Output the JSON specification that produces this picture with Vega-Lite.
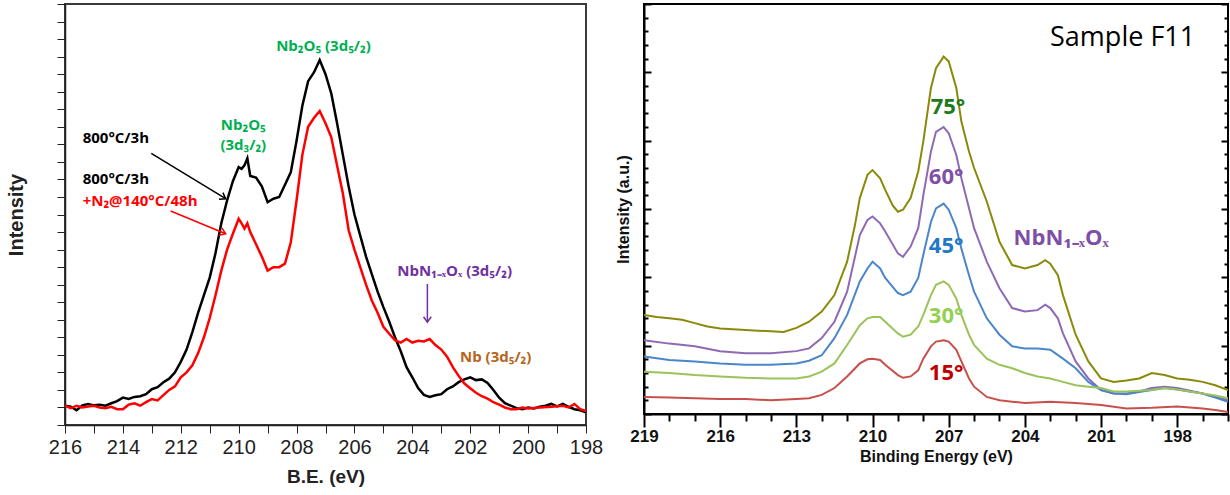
{
  "$schema": "https://vega.github.io/schema/vega-lite/v6.json",
  "padding": {"left": 5, "top": 2, "right": 2, "bottom": 0},
  "autosize": {"type": "pad"},
  "background": "white",
  "config": {"view": {"stroke": null}, "font": "Liberation Sans", "axis": {"labelFont": "Liberation Sans", "titleFont": "Liberation Sans", "grid": false}},
  "spacing": 58,
  "bounds": "flush",
  "resolve": {"scale": {"color": "independent", "x": "independent", "y": "independent"}},
  "hconcat": [
    {
      "width": 521,
      "height": 421,
      "view": {"stroke": "#3a3a3a", "strokeWidth": 2},
      "encoding": {
        "x": {"field": "be", "type": "quantitative",
          "scale": {"domain": [198, 216], "reverse": true, "nice": false, "zero": false},
          "axis": {"title": "B.E. (eV)", "values": [198,199,200,201,202,203,204,205,206,207,208,209,210,211,212,213,214,215,216],
            "labelExpr": "datum.value % 2 === 0 ? datum.label : ''", "labelFlush": false, "labelOverlap": false,
            "tickSize": 8, "tickColor": "#222", "domainColor": "#222", "domainWidth": 1.5,
            "labelFontSize": 20, "labelColor": "#222", "labelPadding": 4,
            "titleFontSize": 19, "titleFontWeight": "bold", "titleColor": "#222", "titlePadding": 10}},
        "y": {"field": "i", "type": "quantitative",
          "scale": {"domain": [-0.5, 11.5], "nice": false, "zero": false},
          "axis": {"title": "Intensity", "labels": false,
            "values": [-0.5,0,0.5,1,1.5,2,2.5,3,3.5,4,4.5,5,5.5,6,6.5,7,7.5,8,8.5,9,9.5,10,10.5,11,11.5],
            "tickSize": 8, "tickColor": "#222", "domainColor": "#222", "domainWidth": 1.5,
            "titleFontSize": 20, "titleFontWeight": "bold", "titleColor": "#222", "titlePadding": 30}}
      },
      "layer": [
        {
          "data": {"values": [
            {"be":216.0,"i":0.05,"s":"A"},{"be":215.8,"i":0.02,"s":"A"},{"be":215.6,"i":-0.08,"s":"A"},{"be":215.4,"i":0.06,"s":"A"},{"be":215.2,"i":0.1,"s":"A"},{"be":215.0,"i":0.06,"s":"A"},{"be":214.8,"i":0.08,"s":"A"},{"be":214.6,"i":0.05,"s":"A"},{"be":214.4,"i":0.12,"s":"A"},{"be":214.2,"i":0.18,"s":"A"},{"be":214.0,"i":0.28,"s":"A"},{"be":213.8,"i":0.24,"s":"A"},{"be":213.6,"i":0.3,"s":"A"},{"be":213.4,"i":0.32,"s":"A"},{"be":213.2,"i":0.38,"s":"A"},{"be":213.0,"i":0.52,"s":"A"},{"be":212.8,"i":0.58,"s":"A"},{"be":212.6,"i":0.72,"s":"A"},{"be":212.4,"i":0.82,"s":"A"},{"be":212.2,"i":1.0,"s":"A"},{"be":212.0,"i":1.3,"s":"A"},{"be":211.8,"i":1.65,"s":"A"},{"be":211.6,"i":2.15,"s":"A"},{"be":211.4,"i":2.7,"s":"A"},{"be":211.2,"i":3.2,"s":"A"},{"be":211.0,"i":3.7,"s":"A"},{"be":210.8,"i":4.4,"s":"A"},{"be":210.6,"i":5.25,"s":"A"},{"be":210.4,"i":5.9,"s":"A"},{"be":210.2,"i":6.45,"s":"A"},{"be":210.0,"i":6.85,"s":"A"},{"be":209.9,"i":6.8,"s":"A"},{"be":209.8,"i":6.9,"s":"A"},{"be":209.7,"i":7.1,"s":"A"},{"be":209.6,"i":6.6,"s":"A"},{"be":209.4,"i":6.55,"s":"A"},{"be":209.2,"i":6.3,"s":"A"},{"be":209.0,"i":5.85,"s":"A"},{"be":208.8,"i":5.95,"s":"A"},{"be":208.6,"i":6.0,"s":"A"},{"be":208.4,"i":6.35,"s":"A"},{"be":208.2,"i":6.7,"s":"A"},{"be":208.0,"i":7.6,"s":"A"},{"be":207.8,"i":8.6,"s":"A"},{"be":207.6,"i":9.3,"s":"A"},{"be":207.4,"i":9.55,"s":"A"},{"be":207.2,"i":9.9,"s":"A"},{"be":207.0,"i":9.5,"s":"A"},{"be":206.8,"i":8.95,"s":"A"},{"be":206.6,"i":8.1,"s":"A"},{"be":206.4,"i":7.2,"s":"A"},{"be":206.2,"i":6.3,"s":"A"},{"be":206.0,"i":5.5,"s":"A"},{"be":205.8,"i":4.9,"s":"A"},{"be":205.6,"i":4.3,"s":"A"},{"be":205.4,"i":3.8,"s":"A"},{"be":205.2,"i":3.3,"s":"A"},{"be":205.0,"i":2.86,"s":"A"},{"be":204.8,"i":2.45,"s":"A"},{"be":204.6,"i":2.0,"s":"A"},{"be":204.4,"i":1.6,"s":"A"},{"be":204.2,"i":1.15,"s":"A"},{"be":204.0,"i":0.86,"s":"A"},{"be":203.8,"i":0.55,"s":"A"},{"be":203.6,"i":0.36,"s":"A"},{"be":203.4,"i":0.3,"s":"A"},{"be":203.2,"i":0.35,"s":"A"},{"be":203.0,"i":0.38,"s":"A"},{"be":202.8,"i":0.52,"s":"A"},{"be":202.6,"i":0.6,"s":"A"},{"be":202.4,"i":0.72,"s":"A"},{"be":202.2,"i":0.8,"s":"A"},{"be":202.0,"i":0.86,"s":"A"},{"be":201.8,"i":0.78,"s":"A"},{"be":201.6,"i":0.8,"s":"A"},{"be":201.4,"i":0.7,"s":"A"},{"be":201.2,"i":0.5,"s":"A"},{"be":201.0,"i":0.28,"s":"A"},{"be":200.8,"i":0.12,"s":"A"},{"be":200.6,"i":0.05,"s":"A"},{"be":200.4,"i":-0.02,"s":"A"},{"be":200.2,"i":-0.05,"s":"A"},{"be":200.0,"i":0.0,"s":"A"},{"be":199.8,"i":-0.03,"s":"A"},{"be":199.6,"i":0.02,"s":"A"},{"be":199.4,"i":0.05,"s":"A"},{"be":199.2,"i":0.1,"s":"A"},{"be":199.0,"i":0.03,"s":"A"},{"be":198.8,"i":0.1,"s":"A"},{"be":198.6,"i":0.02,"s":"A"},{"be":198.4,"i":-0.05,"s":"A"},{"be":198.2,"i":-0.08,"s":"A"},{"be":198.0,"i":-0.14,"s":"A"},
            {"be":216.0,"i":0.05,"s":"B"},{"be":215.8,"i":-0.02,"s":"B"},{"be":215.6,"i":0.05,"s":"B"},{"be":215.4,"i":0.0,"s":"B"},{"be":215.2,"i":0.03,"s":"B"},{"be":215.0,"i":0.05,"s":"B"},{"be":214.8,"i":0.0,"s":"B"},{"be":214.6,"i":-0.02,"s":"B"},{"be":214.4,"i":0.02,"s":"B"},{"be":214.2,"i":-0.05,"s":"B"},{"be":214.0,"i":-0.05,"s":"B"},{"be":213.8,"i":0.08,"s":"B"},{"be":213.6,"i":0.12,"s":"B"},{"be":213.4,"i":0.05,"s":"B"},{"be":213.2,"i":0.15,"s":"B"},{"be":213.0,"i":0.24,"s":"B"},{"be":212.8,"i":0.2,"s":"B"},{"be":212.6,"i":0.35,"s":"B"},{"be":212.4,"i":0.5,"s":"B"},{"be":212.2,"i":0.6,"s":"B"},{"be":212.0,"i":0.86,"s":"B"},{"be":211.8,"i":1.0,"s":"B"},{"be":211.6,"i":1.2,"s":"B"},{"be":211.4,"i":1.55,"s":"B"},{"be":211.2,"i":2.0,"s":"B"},{"be":211.0,"i":2.55,"s":"B"},{"be":210.8,"i":3.2,"s":"B"},{"be":210.6,"i":3.9,"s":"B"},{"be":210.4,"i":4.5,"s":"B"},{"be":210.2,"i":4.95,"s":"B"},{"be":210.0,"i":5.38,"s":"B"},{"be":209.9,"i":5.25,"s":"B"},{"be":209.8,"i":5.1,"s":"B"},{"be":209.7,"i":5.25,"s":"B"},{"be":209.6,"i":5.0,"s":"B"},{"be":209.4,"i":4.65,"s":"B"},{"be":209.2,"i":4.3,"s":"B"},{"be":209.0,"i":3.9,"s":"B"},{"be":208.8,"i":4.0,"s":"B"},{"be":208.6,"i":4.0,"s":"B"},{"be":208.4,"i":4.1,"s":"B"},{"be":208.2,"i":4.7,"s":"B"},{"be":208.0,"i":5.9,"s":"B"},{"be":207.8,"i":7.2,"s":"B"},{"be":207.6,"i":8.0,"s":"B"},{"be":207.4,"i":8.25,"s":"B"},{"be":207.2,"i":8.45,"s":"B"},{"be":207.0,"i":8.1,"s":"B"},{"be":206.8,"i":7.7,"s":"B"},{"be":206.6,"i":6.9,"s":"B"},{"be":206.4,"i":6.1,"s":"B"},{"be":206.2,"i":5.05,"s":"B"},{"be":206.0,"i":4.5,"s":"B"},{"be":205.8,"i":4.0,"s":"B"},{"be":205.6,"i":3.5,"s":"B"},{"be":205.4,"i":3.05,"s":"B"},{"be":205.2,"i":2.7,"s":"B"},{"be":205.0,"i":2.3,"s":"B"},{"be":204.8,"i":2.1,"s":"B"},{"be":204.6,"i":1.92,"s":"B"},{"be":204.4,"i":1.85,"s":"B"},{"be":204.2,"i":1.95,"s":"B"},{"be":204.0,"i":1.85,"s":"B"},{"be":203.8,"i":1.9,"s":"B"},{"be":203.6,"i":1.88,"s":"B"},{"be":203.4,"i":1.95,"s":"B"},{"be":203.2,"i":1.78,"s":"B"},{"be":203.0,"i":1.65,"s":"B"},{"be":202.8,"i":1.45,"s":"B"},{"be":202.6,"i":1.15,"s":"B"},{"be":202.4,"i":0.9,"s":"B"},{"be":202.2,"i":0.68,"s":"B"},{"be":202.0,"i":0.55,"s":"B"},{"be":201.8,"i":0.42,"s":"B"},{"be":201.6,"i":0.32,"s":"B"},{"be":201.4,"i":0.25,"s":"B"},{"be":201.2,"i":0.15,"s":"B"},{"be":201.0,"i":0.08,"s":"B"},{"be":200.8,"i":0.0,"s":"B"},{"be":200.6,"i":-0.05,"s":"B"},{"be":200.4,"i":-0.05,"s":"B"},{"be":200.2,"i":0.0,"s":"B"},{"be":200.0,"i":-0.03,"s":"B"},{"be":199.6,"i":0.0,"s":"B"},{"be":199.2,"i":0.02,"s":"B"},{"be":198.8,"i":0.05,"s":"B"},{"be":198.6,"i":0.0,"s":"B"},{"be":198.4,"i":0.1,"s":"B"},{"be":198.2,"i":-0.05,"s":"B"},{"be":198.0,"i":-0.1,"s":"B"}
          ]},
          "mark": {"type": "line", "strokeWidth": 2.5},
          "encoding": {
            "color": {"field": "s", "type": "nominal", "scale": {"domain": ["A", "B"], "range": ["#000000", "#ff0000"]}, "legend": null}
          }
        },
        {
          "data": {"values": [{"be": 207.07, "i": 10.29, "t": "Nb₂O₅ (3d₅/₂)"}, {"be": 209.84, "i": 8.05, "t": "Nb₂O₅"}, {"be": 209.84, "i": 7.48, "t": "(3d₃/₂)"}]},
          "mark": {"type": "text", "font": "Open Sans", "fontWeight": "bold", "fontSize": 15, "color": "#00b050", "baseline": "middle", "align": "center"},
          "encoding": {"text": {"field": "t"}}
        },
        {
          "data": {"values": [{"be": 215.39, "i": 7.67, "t": "800°C/3h"}, {"be": 215.39, "i": 6.5, "t": "800°C/3h"}]},
          "mark": {"type": "text", "font": "Open Sans", "fontWeight": "bold", "fontSize": 15, "color": "#000000", "baseline": "middle", "align": "left"},
          "encoding": {"text": {"field": "t"}}
        },
        {
          "data": {"values": [{"be": 215.39, "i": 5.88, "t": "+N₂@140°C/48h"}]},
          "mark": {"type": "text", "font": "Open Sans", "fontWeight": "bold", "fontSize": 15, "color": "#ff0000", "baseline": "middle", "align": "left"},
          "encoding": {"text": {"field": "t"}}
        },
        {
          "data": {"values": [{"be": 202.54, "i": 3.9, "t": "NbN₁₋ₓOₓ (3d₅/₂)"}]},
          "mark": {"type": "text", "font": "Open Sans", "fontWeight": "bold", "fontSize": 15, "color": "#7030a0", "baseline": "middle", "align": "center"},
          "encoding": {"text": {"field": "t"}}
        },
        {
          "data": {"values": [{"be": 201.12, "i": 1.45, "t": "Nb (3d₅/₂)"}]},
          "mark": {"type": "text", "font": "Open Sans", "fontWeight": "bold", "fontSize": 15, "color": "#b5651d", "baseline": "middle", "align": "center"},
          "encoding": {"text": {"field": "t"}}
        },
        {
          "data": {"values": [{"be": 210.45, "i": 5.95, "be2": 213.02, "i2": 7.24}]},
          "layer": [
            {"mark": {"type": "rule", "color": "#000000", "strokeWidth": 1.5},
             "encoding": {"x2": {"field": "be2"}, "y2": {"field": "i2"}}},
            {"mark": {"type": "point", "shape": "M-0.7,1L0,0L0.7,1", "filled": false, "color": "#000000", "strokeWidth": 1.5, "size": 120, "angle": 121, "opacity": 1},
             "encoding": {}}
          ]
        },
        {
          "data": {"values": [{"be": 210.45, "i": 4.95, "be2": 212.35, "i2": 5.6}]},
          "layer": [
            {"mark": {"type": "rule", "color": "#ff0000", "strokeWidth": 1.5},
             "encoding": {"x2": {"field": "be2"}, "y2": {"field": "i2"}}},
            {"mark": {"type": "point", "shape": "M-0.7,1L0,0L0.7,1", "filled": false, "color": "#ff0000", "strokeWidth": 1.5, "size": 120, "angle": 112, "opacity": 1},
             "encoding": {}}
          ]
        },
        {
          "data": {"values": [{"be": 203.48, "i": 2.43, "be2": 203.48, "i2": 3.52}]},
          "layer": [
            {"mark": {"type": "rule", "color": "#7030a0", "strokeWidth": 1.5},
             "encoding": {"x2": {"field": "be2"}, "y2": {"field": "i2"}}},
            {"mark": {"type": "point", "shape": "M-0.7,1L0,0L0.7,1", "filled": false, "color": "#7030a0", "strokeWidth": 1.5, "size": 120, "angle": 180, "opacity": 1},
             "encoding": {}}
          ]
        }
      ]
    },
    {
      "width": 584,
      "height": 410,
      "view": {"stroke": "#000000", "strokeWidth": 2},
      "resolve": {"scale": {"y": "independent"}, "axis": {"y": "independent"}},
      "encoding": {
        "x": {"field": "be", "type": "quantitative",
          "scale": {"domain": [196, 219], "reverse": true, "nice": false, "zero": false},
          "axis": {"title": "Binding Energy (eV)",
            "values": [196,197,198,199,200,201,202,203,204,205,206,207,208,209,210,211,212,213,214,215,216,217,218,219],
            "labelExpr": "(219 - datum.value) % 3 === 0 ? datum.label : ''", "labelFlush": false, "labelOverlap": false,
            "tickSize": {"condition": {"test": "(219 - datum.value) % 3 === 0", "value": 13}, "value": 7},
            "tickColor": "#000", "tickWidth": 2, "domainColor": "#000", "domainWidth": 2,
            "labelFontSize": 17, "labelFontWeight": "bold", "labelColor": "#111", "labelPadding": 1,
            "titleFontSize": 16, "titleFontWeight": "bold", "titleColor": "#111", "titlePadding": 4}}
      },
      "layer": [
        {
          "data": {"values": [
            {"be":219,"i":1.45,"a":"75"},{"be":218.5,"i":1.42,"a":"75"},{"be":218,"i":1.40,"a":"75"},{"be":217.5,"i":1.38,"a":"75"},{"be":217,"i":1.33,"a":"75"},{"be":216.5,"i":1.28,"a":"75"},{"be":216,"i":1.25,"a":"75"},{"be":215.5,"i":1.24,"a":"75"},{"be":215,"i":1.23,"a":"75"},{"be":214.5,"i":1.22,"a":"75"},{"be":214,"i":1.21,"a":"75"},{"be":213.5,"i":1.2,"a":"75"},{"be":213,"i":1.26,"a":"75"},{"be":212.5,"i":1.35,"a":"75"},{"be":212,"i":1.5,"a":"75"},{"be":211.5,"i":1.74,"a":"75"},{"be":211,"i":2.23,"a":"75"},{"be":210.7,"i":2.75,"a":"75"},{"be":210.5,"i":3.16,"a":"75"},{"be":210.2,"i":3.5,"a":"75"},{"be":210,"i":3.57,"a":"75"},{"be":209.7,"i":3.45,"a":"75"},{"be":209.5,"i":3.28,"a":"75"},{"be":209.2,"i":3.05,"a":"75"},{"be":209,"i":2.96,"a":"75"},{"be":208.8,"i":2.99,"a":"75"},{"be":208.5,"i":3.16,"a":"75"},{"be":208.2,"i":3.55,"a":"75"},{"be":208,"i":3.99,"a":"75"},{"be":207.7,"i":4.77,"a":"75"},{"be":207.5,"i":5.06,"a":"75"},{"be":207.2,"i":5.23,"a":"75"},{"be":207,"i":5.16,"a":"75"},{"be":206.7,"i":4.77,"a":"75"},{"be":206.5,"i":4.28,"a":"75"},{"be":206.2,"i":3.84,"a":"75"},{"be":206,"i":3.6,"a":"75"},{"be":205.5,"i":3.11,"a":"75"},{"be":205,"i":2.52,"a":"75"},{"be":204.5,"i":2.18,"a":"75"},{"be":204,"i":2.13,"a":"75"},{"be":203.5,"i":2.18,"a":"75"},{"be":203.2,"i":2.25,"a":"75"},{"be":203,"i":2.2,"a":"75"},{"be":202.7,"i":2.03,"a":"75"},{"be":202.5,"i":1.74,"a":"75"},{"be":202,"i":1.16,"a":"75"},{"be":201.5,"i":0.77,"a":"75"},{"be":201,"i":0.52,"a":"75"},{"be":200.5,"i":0.47,"a":"75"},{"be":200,"i":0.49,"a":"75"},{"be":199.5,"i":0.52,"a":"75"},{"be":199,"i":0.6,"a":"75"},{"be":198.5,"i":0.57,"a":"75"},{"be":198,"i":0.52,"a":"75"},{"be":197.5,"i":0.5,"a":"75"},{"be":197,"i":0.47,"a":"75"},{"be":196.5,"i":0.42,"a":"75"},{"be":196,"i":0.35,"a":"75"},
            {"be":219,"i":1.08,"a":"60"},{"be":218,"i":1.03,"a":"60"},{"be":217,"i":0.99,"a":"60"},{"be":216,"i":0.92,"a":"60"},{"be":215,"i":0.89,"a":"60"},{"be":214,"i":0.89,"a":"60"},{"be":213,"i":0.92,"a":"60"},{"be":212.5,"i":0.96,"a":"60"},{"be":212,"i":1.11,"a":"60"},{"be":211.5,"i":1.35,"a":"60"},{"be":211,"i":1.79,"a":"60"},{"be":210.5,"i":2.62,"a":"60"},{"be":210.2,"i":2.84,"a":"60"},{"be":210,"i":2.89,"a":"60"},{"be":209.7,"i":2.79,"a":"60"},{"be":209.5,"i":2.67,"a":"60"},{"be":209,"i":2.35,"a":"60"},{"be":208.8,"i":2.3,"a":"60"},{"be":208.5,"i":2.45,"a":"60"},{"be":208.2,"i":2.72,"a":"60"},{"be":208,"i":3.2,"a":"60"},{"be":207.7,"i":3.84,"a":"60"},{"be":207.5,"i":4.13,"a":"60"},{"be":207.2,"i":4.2,"a":"60"},{"be":207,"i":4.11,"a":"60"},{"be":206.7,"i":3.79,"a":"60"},{"be":206.5,"i":3.45,"a":"60"},{"be":206.2,"i":3.01,"a":"60"},{"be":206,"i":2.72,"a":"60"},{"be":205.5,"i":2.23,"a":"60"},{"be":205,"i":1.84,"a":"60"},{"be":204.5,"i":1.55,"a":"60"},{"be":204,"i":1.5,"a":"60"},{"be":203.5,"i":1.52,"a":"60"},{"be":203.2,"i":1.6,"a":"60"},{"be":203,"i":1.55,"a":"60"},{"be":202.7,"i":1.4,"a":"60"},{"be":202.5,"i":1.18,"a":"60"},{"be":202,"i":0.77,"a":"60"},{"be":201.5,"i":0.52,"a":"60"},{"be":201,"i":0.35,"a":"60"},{"be":200.5,"i":0.3,"a":"60"},{"be":200,"i":0.3,"a":"60"},{"be":199.5,"i":0.33,"a":"60"},{"be":199,"i":0.38,"a":"60"},{"be":198.5,"i":0.4,"a":"60"},{"be":198,"i":0.38,"a":"60"},{"be":197,"i":0.3,"a":"60"},{"be":196.5,"i":0.25,"a":"60"},{"be":196,"i":0.2,"a":"60"},
            {"be":219,"i":0.84,"a":"45"},{"be":218,"i":0.79,"a":"45"},{"be":217,"i":0.77,"a":"45"},{"be":216,"i":0.74,"a":"45"},{"be":215,"i":0.72,"a":"45"},{"be":214,"i":0.72,"a":"45"},{"be":213,"i":0.74,"a":"45"},{"be":212.5,"i":0.78,"a":"45"},{"be":212,"i":0.86,"a":"45"},{"be":211.5,"i":1.11,"a":"45"},{"be":211,"i":1.45,"a":"45"},{"be":210.5,"i":1.94,"a":"45"},{"be":210.2,"i":2.13,"a":"45"},{"be":210,"i":2.23,"a":"45"},{"be":209.7,"i":2.13,"a":"45"},{"be":209.5,"i":1.99,"a":"45"},{"be":209,"i":1.77,"a":"45"},{"be":208.8,"i":1.74,"a":"45"},{"be":208.5,"i":1.79,"a":"45"},{"be":208.2,"i":1.99,"a":"45"},{"be":208,"i":2.33,"a":"45"},{"be":207.7,"i":2.81,"a":"45"},{"be":207.5,"i":3.01,"a":"45"},{"be":207.2,"i":3.08,"a":"45"},{"be":207,"i":2.99,"a":"45"},{"be":206.7,"i":2.72,"a":"45"},{"be":206.5,"i":2.42,"a":"45"},{"be":206.2,"i":2.03,"a":"45"},{"be":206,"i":1.79,"a":"45"},{"be":205.5,"i":1.4,"a":"45"},{"be":205,"i":1.16,"a":"45"},{"be":204.5,"i":0.99,"a":"45"},{"be":204,"i":0.96,"a":"45"},{"be":203.5,"i":0.96,"a":"45"},{"be":203,"i":0.94,"a":"45"},{"be":202.5,"i":0.81,"a":"45"},{"be":202,"i":0.67,"a":"45"},{"be":201.5,"i":0.47,"a":"45"},{"be":201,"i":0.35,"a":"45"},{"be":200.5,"i":0.3,"a":"45"},{"be":200,"i":0.29,"a":"45"},{"be":199.5,"i":0.32,"a":"45"},{"be":199,"i":0.35,"a":"45"},{"be":198.5,"i":0.38,"a":"45"},{"be":198,"i":0.36,"a":"45"},{"be":197,"i":0.3,"a":"45"},{"be":196.5,"i":0.24,"a":"45"},{"be":196,"i":0.18,"a":"45"},
            {"be":219,"i":0.62,"a":"30"},{"be":218,"i":0.6,"a":"30"},{"be":217,"i":0.57,"a":"30"},{"be":216,"i":0.55,"a":"30"},{"be":215,"i":0.53,"a":"30"},{"be":214,"i":0.52,"a":"30"},{"be":213,"i":0.52,"a":"30"},{"be":212.5,"i":0.55,"a":"30"},{"be":212,"i":0.62,"a":"30"},{"be":211.5,"i":0.74,"a":"30"},{"be":211,"i":1.01,"a":"30"},{"be":210.5,"i":1.3,"a":"30"},{"be":210.2,"i":1.4,"a":"30"},{"be":210,"i":1.42,"a":"30"},{"be":209.7,"i":1.42,"a":"30"},{"be":209.5,"i":1.35,"a":"30"},{"be":209,"i":1.18,"a":"30"},{"be":208.8,"i":1.13,"a":"30"},{"be":208.5,"i":1.16,"a":"30"},{"be":208.2,"i":1.28,"a":"30"},{"be":208,"i":1.45,"a":"30"},{"be":207.7,"i":1.74,"a":"30"},{"be":207.5,"i":1.89,"a":"30"},{"be":207.2,"i":1.94,"a":"30"},{"be":207,"i":1.89,"a":"30"},{"be":206.7,"i":1.69,"a":"30"},{"be":206.5,"i":1.45,"a":"30"},{"be":206.2,"i":1.16,"a":"30"},{"be":206,"i":1.01,"a":"30"},{"be":205.5,"i":0.81,"a":"30"},{"be":205,"i":0.72,"a":"30"},{"be":204.5,"i":0.67,"a":"30"},{"be":204,"i":0.6,"a":"30"},{"be":203.5,"i":0.55,"a":"30"},{"be":203,"i":0.52,"a":"30"},{"be":202.5,"i":0.47,"a":"30"},{"be":202,"i":0.42,"a":"30"},{"be":201.5,"i":0.4,"a":"30"},{"be":201,"i":0.38,"a":"30"},{"be":200.5,"i":0.33,"a":"30"},{"be":200,"i":0.33,"a":"30"},{"be":199.5,"i":0.34,"a":"30"},{"be":199,"i":0.35,"a":"30"},{"be":198.5,"i":0.38,"a":"30"},{"be":198,"i":0.36,"a":"30"},{"be":197,"i":0.3,"a":"30"},{"be":196.5,"i":0.27,"a":"30"},{"be":196,"i":0.23,"a":"30"},
            {"be":219,"i":0.25,"a":"15"},{"be":218,"i":0.24,"a":"15"},{"be":217,"i":0.23,"a":"15"},{"be":216,"i":0.22,"a":"15"},{"be":215,"i":0.22,"a":"15"},{"be":214,"i":0.2,"a":"15"},{"be":213,"i":0.22,"a":"15"},{"be":212.5,"i":0.23,"a":"15"},{"be":212,"i":0.28,"a":"15"},{"be":211.5,"i":0.38,"a":"15"},{"be":211,"i":0.55,"a":"15"},{"be":210.5,"i":0.74,"a":"15"},{"be":210.2,"i":0.8,"a":"15"},{"be":210,"i":0.81,"a":"15"},{"be":209.7,"i":0.79,"a":"15"},{"be":209.5,"i":0.72,"a":"15"},{"be":209,"i":0.57,"a":"15"},{"be":208.8,"i":0.53,"a":"15"},{"be":208.5,"i":0.55,"a":"15"},{"be":208.2,"i":0.64,"a":"15"},{"be":208,"i":0.81,"a":"15"},{"be":207.7,"i":0.99,"a":"15"},{"be":207.5,"i":1.06,"a":"15"},{"be":207.2,"i":1.08,"a":"15"},{"be":207,"i":1.06,"a":"15"},{"be":206.7,"i":0.94,"a":"15"},{"be":206.5,"i":0.77,"a":"15"},{"be":206.2,"i":0.52,"a":"15"},{"be":206,"i":0.4,"a":"15"},{"be":205.5,"i":0.25,"a":"15"},{"be":205,"i":0.2,"a":"15"},{"be":204.5,"i":0.18,"a":"15"},{"be":204,"i":0.16,"a":"15"},{"be":203,"i":0.18,"a":"15"},{"be":202,"i":0.16,"a":"15"},{"be":201,"i":0.13,"a":"15"},{"be":200,"i":0.08,"a":"15"},{"be":199,"i":0.09,"a":"15"},{"be":198,"i":0.11,"a":"15"},{"be":197,"i":0.08,"a":"15"},{"be":196.5,"i":0.06,"a":"15"},{"be":196,"i":0.03,"a":"15"}
          ]},
          "mark": {"type": "line", "strokeWidth": 2},
          "encoding": {
            "y": {"field": "i", "type": "quantitative",
              "scale": {"domain": [0, 6], "nice": false, "zero": false},
              "axis": {"title": "Intensity (a.u.)", "labels": false, "orient": "left",
                "values": [0,0.2,0.4,0.6,0.8,1,1.2,1.4,1.6,1.8,2,2.2,2.4,2.6,2.8,3,3.2,3.4,3.6,3.8,4,4.2,4.4,4.6,4.8,5,5.2,5.4,5.6,5.8,6],
                "tickSize": {"condition": {"test": "datum.value % 1 === 0", "value": -7}, "value": -4},
                "tickColor": "#000", "tickWidth": 2, "domainColor": "#000", "domainWidth": 2,
                "titleFontSize": 16, "titleFontWeight": "bold", "titleColor": "#111", "titlePadding": 12}},
            "color": {"field": "a", "type": "nominal", "scale": {"domain": ["75", "60", "45", "30", "15"], "range": ["#8a8a0a", "#8e6ab4", "#4a86c8", "#9bc35a", "#c8504b"]}, "legend": null}
          }
        },
        {
          "encoding": {
            "y": {"field": "i", "type": "quantitative", "scale": {"domain": [0, 6], "nice": false, "zero": false},
              "axis": {"title": null, "labels": false, "orient": "right", "domain": false,
                "values": [0,0.2,0.4,0.6,0.8,1,1.2,1.4,1.6,1.8,2,2.2,2.4,2.6,2.8,3,3.2,3.4,3.6,3.8,4,4.2,4.4,4.6,4.8,5,5.2,5.4,5.6,5.8,6],
                "tickSize": {"condition": {"test": "datum.value % 1 === 0", "value": -7}, "value": -4},
                "tickColor": "#000", "tickWidth": 2}},
            "text": {"field": "t"}
          },
          "layer": [
            {"data": {"values": [{"be": 200.15, "i": 5.5, "t": "Sample F11"}]},
             "mark": {"type": "text", "font": "Open Sans", "fontSize": 27, "color": "#000", "baseline": "middle", "align": "center"}},
            {"data": {"values": [{"be": 207.03, "i": 4.5, "t": "75°"}]},
             "mark": {"type": "text", "font": "Open Sans", "fontWeight": "bold", "fontSize": 22, "color": "#1e7a1e", "baseline": "middle", "align": "center"}},
            {"data": {"values": [{"be": 207.1, "i": 3.47, "t": "60°"}]},
             "mark": {"type": "text", "font": "Open Sans", "fontWeight": "bold", "fontSize": 22, "color": "#7f4fa6", "baseline": "middle", "align": "center"}},
            {"data": {"values": [{"be": 207.1, "i": 2.46, "t": "45°"}]},
             "mark": {"type": "text", "font": "Open Sans", "fontWeight": "bold", "fontSize": 22, "color": "#1f78c8", "baseline": "middle", "align": "center"}},
            {"data": {"values": [{"be": 207.1, "i": 1.43, "t": "30°"}]},
             "mark": {"type": "text", "font": "Open Sans", "fontWeight": "bold", "fontSize": 22, "color": "#92d050", "baseline": "middle", "align": "center"}},
            {"data": {"values": [{"be": 207.1, "i": 0.6, "t": "15°"}]},
             "mark": {"type": "text", "font": "Open Sans", "fontWeight": "bold", "fontSize": 22, "color": "#c00000", "baseline": "middle", "align": "center"}},
            {"data": {"values": [{"be": 202.57, "i": 2.57, "t": "NbN₁₋ₓOₓ"}]},
             "mark": {"type": "text", "font": "Open Sans", "fontWeight": "bold", "fontSize": 22, "color": "#7f4fa6", "baseline": "middle", "align": "center"}}
          ]
        }
      ]
    }
  ]
}
